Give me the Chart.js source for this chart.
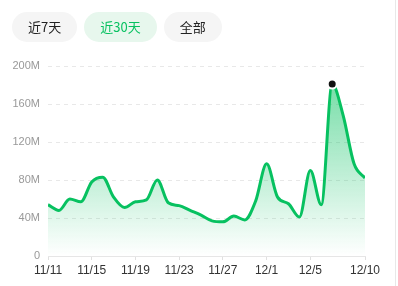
<!DOCTYPE html>
<html>
<head>
<meta charset="utf-8">
<script src="https://cdn.jsdelivr.net/npm/chart.js@4"></script>
<style>
  html, body { margin: 0; padding: 0; background: #fff; }
  body { width: 398px; height: 286px; position: relative; overflow: hidden; }
  #wrap { position: absolute; left: 0; top: 0; width: 398px; height: 286px; }
  #tabs { position: absolute; left: 12px; top: 12px; display: flex; gap: 7px; z-index: 2; }
  .tab { height: 30px; line-height: 30px; padding: 0 16px; border-radius: 15px; background: #f5f5f5;
         font-family: "Noto Sans CJK SC", "Liberation Sans", sans-serif; font-size: 13px; color: #222; }
  .tab.active { background: #e7f7ed; color: #07c160; }
  #edge { position: absolute; left: 395px; top: 0; width: 1px; height: 286px; background: #e8e8e8; }
</style>
</head>
<body>
<div id="tabs">
  <div class="tab">近7天</div>
  <div class="tab active">近30天</div>
  <div class="tab">全部</div>
</div>
<div id="wrap"><canvas id="c" width="398" height="286"></canvas></div>
<div id="edge"></div>
<script>
const categories = ["11/11","11/12","11/13","11/14","11/15","11/16","11/17","11/18","11/19","11/20",
  "11/21","11/22","11/23","11/24","11/25","11/26","11/27","11/28","11/29","11/30",
  "12/1","12/2","12/3","12/4","12/5","12/6","12/7","12/8","12/9","12/10"];
const values = [54,48,60,57,78,83,62,51,57,59,80,56,53,48,43,37,36,42,38,58,97,62,55,41,90,54,181,148,97,82];
const xTickIndexes = [0,4,8,12,16,20,24,29];
const yTicks = [0,40,80,120,160,200];
const highlightIndex = 26;

const points = values.map((v, i) => ({ x: i, y: v }));

new Chart(document.getElementById('c'), {
  type: 'line',
  data: {
    datasets: [{
      data: points,
      borderColor: '#07c160',
      borderWidth: 3,
      tension: 0.4,
      cubicInterpolationMode: 'monotone',
      fill: 'origin',
      backgroundColor: (ctx) => {
        const ca = ctx.chart.chartArea;
        if (!ca) return 'rgba(7,193,96,0.2)';
        const g = ctx.chart.ctx.createLinearGradient(0, ca.top, 0, ca.bottom);
        g.addColorStop(0, 'rgba(7,193,96,0.6)');
        g.addColorStop(1, 'rgba(7,193,96,0.0)');
        return g;
      },
      pointRadius: (ctx) => ctx.dataIndex === highlightIndex ? 4.5 : 0,
      pointBackgroundColor: '#111',
      pointBorderColor: '#fff',
      pointBorderWidth: 2,
      pointHoverRadius: 0
    }]
  },
  options: {
    responsive: false,
    animation: false,
    events: [],
    layout: { padding: { top: 66, right: 33, left: 0, bottom: 0 } },
    plugins: { legend: { display: false }, tooltip: { enabled: false } },
    scales: {
      x: {
        type: 'linear',
        min: 0, max: 29,
        afterBuildTicks: (s) => { s.ticks = xTickIndexes.map(v => ({ value: v })); },
        afterFit: (s) => { s.height = 30; },
        ticks: {
          autoSkip: false, maxRotation: 0, padding: 3,
          color: '#333',
          font: { family: '"Liberation Sans", Arial, sans-serif', size: 12 },
          callback: (v) => categories[v]
        },
        grid: { drawOnChartArea: false, drawTicks: true, tickLength: 4, tickColor: '#e0e0e0', tickWidth: 1 },
        border: { display: true, color: '#e6e6e6', width: 1 }
      },
      y: {
        min: 0, max: 200,
        afterBuildTicks: (s) => { s.ticks = yTicks.map(v => ({ value: v })); },
        afterFit: (s) => { s.width = 48; },
        ticks: {
          padding: 8,
          color: '#999',
          font: { family: '"Liberation Sans", Arial, sans-serif', size: 11 },
          callback: (v) => v === 0 ? '0' : v + 'M'
        },
        grid: {
          drawTicks: false,
          color: (ctx) => ctx.tick && ctx.tick.value === 0 ? 'rgba(0,0,0,0)' : '#e8e8e8',
          lineWidth: 1
        },
        border: { display: false, dash: [4, 4] }
      }
    }
  }
});
</script>
</body>
</html>
